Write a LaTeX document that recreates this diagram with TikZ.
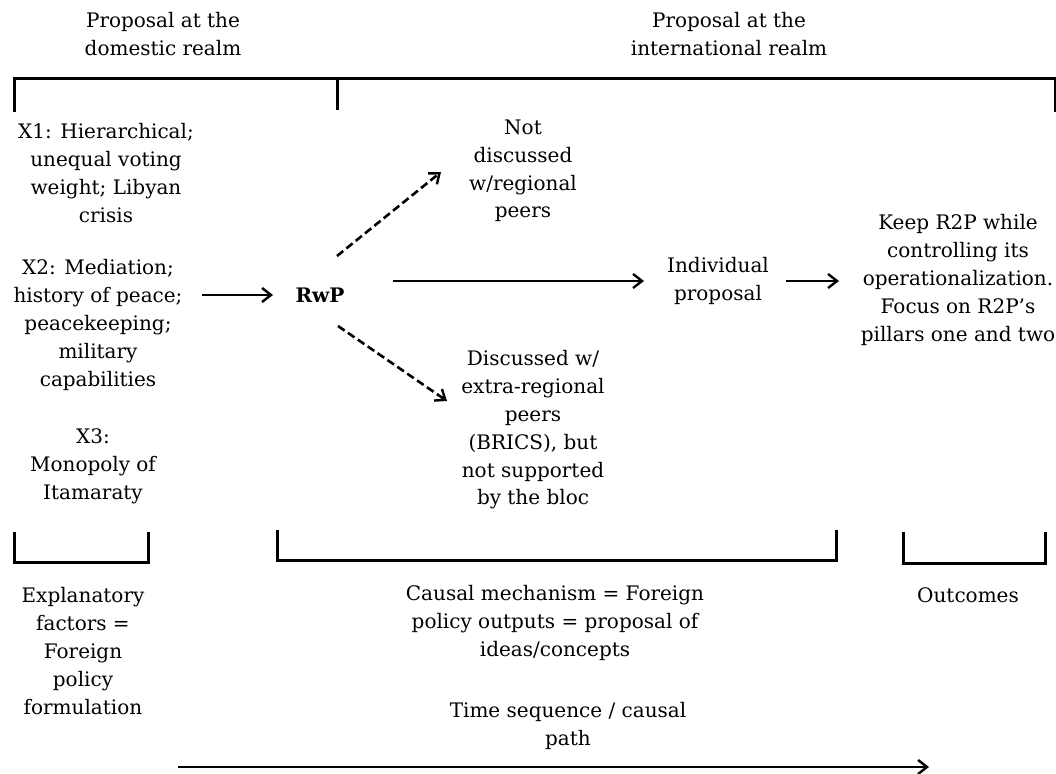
\documentclass[tikz,border=0pt]{standalone}
\usepackage{fontspec}
\setmainfont{DejaVu Serif}
\usetikzlibrary{arrows.meta}
\begin{document}
\begin{tikzpicture}[x=1pt,y=-1pt,
  lbl/.style={align=center,inner sep=0pt,font=\fontsize{20}{27.8}\selectfont},
  brk/.style={line width=3pt},
  arr/.style={line width=2.6pt,-{Straight Barb[length=9pt,width=14pt,line width=2.4pt]}},
  darr/.style={arr,dash pattern=on 8pt off 4pt}]
\useasboundingbox (0,0) rectangle (1056,773);

% headers
\node[lbl] (hdom) at (163,34) {Proposal at the\\domestic realm};
\node[lbl] (hint) at (729,34) {Proposal at the\\international realm};

% top bracket
\draw[brk] (14,112) -- (14,79) -- (1055,79) -- (1055,112);
\draw[brk] (337,79) -- (337,110);

% explanatory factors
\node[lbl] (x1) at (106,173) {X1: Hierarchical;\\unequal voting\\weight; Libyan\\crisis};
\node[lbl] (x2) at (98,325) {X2: Mediation;\\history of peace;\\peacekeeping;\\military\\capabilities};
\node[lbl] (x3) at (93,466) {X3:\\Monopoly of\\Itamaraty};

% central chain
\node[lbl,font=\fontsize{20}{27.8}\selectfont\bfseries] (rwp) at (320,295) {RwP};
\node[lbl] (notd) at (523,171) {Not\\discussed\\w/regional\\peers};
\node[lbl] (disc) at (533,430) {Discussed w/\\extra-regional\\peers\\(BRICS), but\\not supported\\by the bloc};
\node[lbl] (ind) at (718,281) {Individual\\proposal};
\node[lbl] (out) at (958,280) {Keep R2P while\\controlling its\\operationalization.\\Focus on R2P’s\\pillars one and two};

\coordinate (a1) at (202,295);
\coordinate (a2) at (273,295);
\draw[arr] (a1) -- (a2);
\coordinate (b1) at (393,281);
\coordinate (b2) at (644,281);
\draw[arr] (b1) -- (b2);
\coordinate (c1) at (786,281);
\coordinate (c2) at (839,281);
\draw[arr] (c1) -- (c2);
\coordinate (d1) at (337,256);
\coordinate (d2) at (441,172);
\draw[darr] (d1) -- (d2);
\coordinate (e1) at (338,326);
\coordinate (e2) at (447,401);
\draw[darr] (e1) -- (e2);

% bottom brackets
\draw[brk] (14,532) -- (14,562) -- (148,562) -- (148,532);
\draw[brk] (277,530) -- (277,560) -- (836,560) -- (836,530);
\draw[brk] (903,532) -- (903,563) -- (1045,563) -- (1045,532);

% bottom labels
\node[lbl] (expl) at (83,651) {Explanatory\\factors =\\Foreign\\policy\\formulation};
\node[lbl] (caus) at (555,623) {Causal mechanism = Foreign\\policy outputs = proposal of\\ideas/concepts};
\node[lbl] (outc) at (968,595) {Outcomes};
\node[lbl] (time) at (568,726) {Time sequence / causal\\path};

\coordinate (t1) at (178,767);
\coordinate (t2) at (929,767);
\draw[arr] (t1) -- (t2);
\end{tikzpicture}
\end{document}
